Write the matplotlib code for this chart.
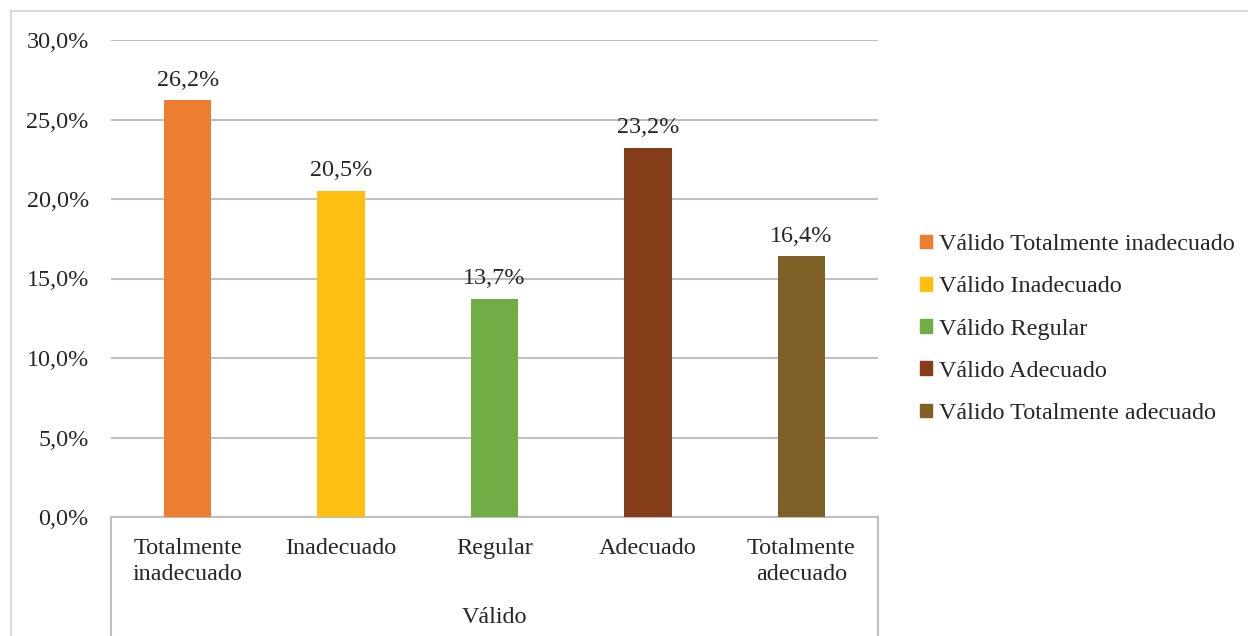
import matplotlib.pyplot as plt
from matplotlib.lines import Line2D
import numpy as np

# datos del grafico
categorias = ['Totalmente\ninadecuado', 'Inadecuado', 'Regular', 'Adecuado', 'Totalmente\nadecuado']
leyenda = ['Válido Totalmente inadecuado', 'Válido Inadecuado', 'Válido Regular',
           'Válido Adecuado', 'Válido Totalmente adecuado']
porcentajes = [26.2, 20.5, 13.7, 23.2, 16.4]
colores = ['#ED7D31', '#FDC010', '#70AD47', '#843C19', '#7F6128']
grupo = 'Válido'

plt.rcParams['font.family'] = ['Liberation Serif', 'DejaVu Serif']
texto = '#262626'
gris = '#BFBFBF'
fs = 17.4

fig = plt.figure(figsize=(12.48, 6.36), dpi=100)
ax = fig.add_axes([111 / 1248, 1 - 517 / 636, 767 / 1248, 477 / 636])

x = np.arange(len(porcentajes))
barras = ax.bar(x, porcentajes, width=0.31, color=colores, zorder=3, label=None)

for xi, v in zip(x, porcentajes):
    ax.annotate(f'{v:.1f}%'.replace('.', ','), (xi, v), xytext=(0, 7),
                textcoords='offset points', ha='center', va='bottom',
                fontsize=fs, color=texto)

ax.set_xlim(-0.5, len(porcentajes) - 0.5)
ax.set_ylim(0, 30)
yt = np.arange(0, 31, 5)
ax.set_yticks(yt)
ax.set_yticklabels([f'{t:.1f}%'.replace('.', ',') for t in yt], fontsize=fs, color=texto)
ax.tick_params(axis='y', length=0, pad=16)
ax.yaxis.grid(True, color=gris, linewidth=1.5, zorder=0)

ax.set_xticks(x)
ax.set_xticklabels(categorias, fontsize=fs, color=texto, linespacing=1.3)
ax.tick_params(axis='x', length=0, pad=15)

for s in ['top', 'right', 'left']:
    ax.spines[s].set_visible(False)
ax.spines['bottom'].set_color(gris)
ax.spines['bottom'].set_linewidth(1.5)

# lineas verticales del eje de categorias
for xx in (0, 1):
    ax.add_line(Line2D([xx, xx], [0, -0.26], transform=ax.transAxes, color=gris,
                       linewidth=1.5, clip_on=False))

ax.text(0.5, -0.21, grupo, transform=ax.transAxes, ha='center', va='center',
        fontsize=fs, color=texto)

# leyenda
handles = [plt.Rectangle((0, 0), 1, 1, color=c) for c in colores]
fig.legend(handles, leyenda, loc='center left', bbox_to_anchor=(898 / 1248, 1 - 329 / 636),
           frameon=False, fontsize=fs, handlelength=0.5, handleheight=0.5,
           handletextpad=0.3, labelspacing=0.88, labelcolor=texto)

# borde del grafico
fig.add_artist(Line2D([11 / 1248, 1], [1 - 11 / 636, 1 - 11 / 636], color='#D9D9D9', linewidth=1.5))
fig.add_artist(Line2D([11 / 1248, 11 / 1248], [0, 1 - 11 / 636], color='#D9D9D9', linewidth=1.5))

plt.savefig('out.png', dpi=100)
